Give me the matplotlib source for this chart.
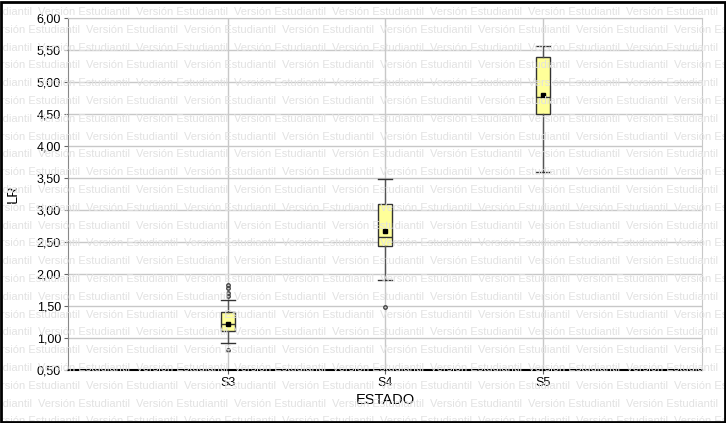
import matplotlib.pyplot as plt
from matplotlib.patches import Rectangle

plt.rcParams['font.family'] = ['Liberation Sans', 'DejaVu Sans']

# Box plot summary
estados = ["S3", "S4", "S5"]
q1 = [1.11, 2.43, 4.50]
q3 = [1.41, 3.09, 5.39]
medianas = [1.22, 2.58, 4.77]
medias = [1.22, 2.67, 4.79]
bigote_inf = [0.92, 1.91, 3.59]
bigote_sup = [1.59, 3.48, 5.57]
atipicos = [[1.66, 1.71, 1.78, 1.83, 0.81], [1.49], []]

yticks = [0.5, 1.0, 1.5, 2.0, 2.5, 3.0, 3.5, 4.0, 4.5, 5.0, 5.5, 6.0]

fig = plt.figure(figsize=(7.26, 4.23), dpi=100)

# marca de agua de fondo
for i in range(24):
    y = 1 - (12 + i * 17.8) / 423
    off = -60 if i % 2 == 0 else -12
    for j in range(9):
        fig.text((off + j * 98) / 726, y, "Versión Estudiantil", fontsize=8,
                 color='#e2e2e2', va='center', ha='left', zorder=0)

fig.patches.append(Rectangle((0.002, 0.003), 0.996, 0.993, transform=fig.transFigure,
                             fill=False, edgecolor='black', linewidth=2, zorder=5))

ax = fig.add_axes([68 / 726, 53 / 423, 634 / 726, 352 / 423])
ax.patch.set_alpha(0)

stats = []
for k in range(len(estados)):
    stats.append(dict(label=estados[k], q1=q1[k], q3=q3[k], med=medianas[k],
                      mean=medias[k], whislo=bigote_inf[k], whishi=bigote_sup[k],
                      fliers=atipicos[k]))

ax.bxp(stats, positions=[1, 2, 3], widths=0.09, patch_artist=True, showmeans=True,
       boxprops=dict(facecolor='#ffff99', edgecolor='#333333', linewidth=1),
       medianprops=dict(color='#333333', linewidth=1),
       whiskerprops=dict(color='#555555', linewidth=1),
       capprops=dict(color='#333333', linewidth=1), capwidths=0.09,
       meanprops=dict(marker='s', markerfacecolor='black', markeredgecolor='black',
                      markersize=2.5),
       flierprops=dict(marker='o', markerfacecolor='none', markeredgecolor='#444444',
                       markersize=2.5))

ax.set_xlim(-0.015, 4.01)
ax.set_ylim(0.5, 6.0)
ax.set_yticks(yticks)
ax.set_yticklabels([f"{v:.2f}".replace('.', ',') for v in yticks], fontsize=9)
ax.set_xticks([1, 2, 3])
ax.set_xticklabels(estados, fontsize=9)
ax.grid(True, color='#c8c8c8', linewidth=1)
ax.set_axisbelow(True)
for s in ['top', 'right']:
    ax.spines[s].set_color('#c8c8c8')
ax.spines['left'].set_color('#888888')
ax.spines['bottom'].set_color('black')
ax.spines['bottom'].set_linewidth(1.5)
ax.tick_params(axis='both', length=3, color='#666666', pad=2)

ax.set_xlabel('ESTADO', fontsize=10.5, labelpad=3)
ax.set_ylabel('LR', fontsize=10.5, labelpad=12)

fig.savefig('out.png', dpi=100)
